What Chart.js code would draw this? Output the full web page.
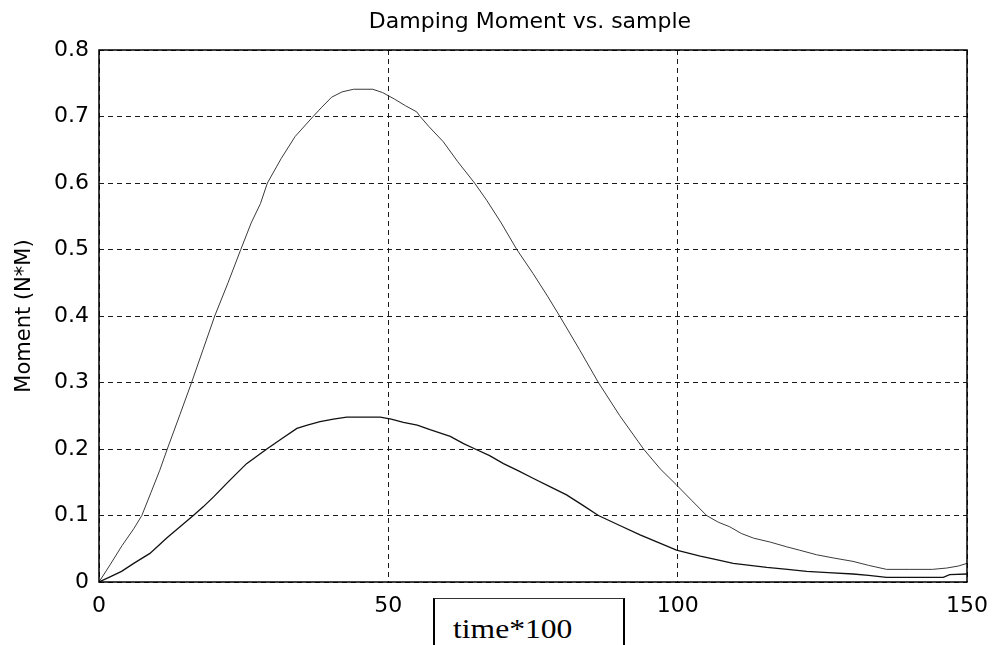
<!DOCTYPE html>
<html>
<head>
<meta charset="utf-8">
<script src="https://cdn.jsdelivr.net/npm/chart.js@4/dist/chart.umd.min.js"></script>
<style>
  html, body { margin: 0; padding: 0; background: #fff; overflow: hidden; }
  #wrap { position: relative; width: 999px; height: 645px; }
  #xlabel {
    position: absolute; left: 433px; top: 598px; width: 188px; height: 60px;
    border: 2px solid #000; border-top: 1.5px solid #333; background: #fff;
  }
  #xlabel span {
    position: absolute; left: 18px; top: 17px; display: inline-block;
    font-family: "Liberation Serif", serif; font-size: 27px; line-height: 27px;
    color: #000; transform: scaleX(1.17); transform-origin: left top; white-space: nowrap;
  }
</style>
</head>
<body>
<div id="wrap">
  <canvas id="c" width="999" height="645"></canvas>
  <div id="xlabel"><span>time*100</span></div>
</div>
<script>
// Larger damping curve (samples, moment in N*M)
const upperSample = [0, 2, 4, 6, 7.4, 9, 10.5, 11.8, 14, 16, 18, 20, 22.3, 24.5, 26.3, 27.9, 29.1, 31.5, 33.9, 37, 38.5, 40.2, 42, 44, 47.3, 49, 51.1, 53, 54.9, 55.5, 57, 59.5, 62, 64.9, 67, 69.5, 72.2, 75, 77.5, 79.6, 83, 86.3, 90, 94.1, 97, 99.8, 102.5, 105, 107, 109, 111, 113.1, 116, 118.8, 121, 124, 127, 130.3, 133, 136.1, 140, 144, 146.5, 148.5, 150];
const upperMoment = [0, 0.027, 0.055, 0.08, 0.1, 0.135, 0.168, 0.2, 0.252, 0.3, 0.35, 0.4, 0.45, 0.5, 0.54, 0.569, 0.6, 0.637, 0.67, 0.7, 0.714, 0.729, 0.737, 0.741, 0.741, 0.736, 0.726, 0.716, 0.707, 0.7, 0.685, 0.662, 0.632, 0.6, 0.574, 0.54, 0.5, 0.464, 0.43, 0.4, 0.35, 0.3, 0.25, 0.2, 0.17, 0.146, 0.122, 0.1, 0.09, 0.083, 0.073, 0.066, 0.06, 0.053, 0.048, 0.041, 0.036, 0.031, 0.025, 0.019, 0.019, 0.019, 0.021, 0.024, 0.028];

// Smaller damping curve
const lowerSample = [0, 2, 3.9, 6, 8.8, 10.3, 11.7, 14, 16.3, 18, 19.8, 22.5, 25.5, 29, 31.5, 34.2, 36, 38.2, 40.5, 42.8, 46, 48.6, 50.5, 52.6, 55, 57.2, 60.7, 63, 65, 67.5, 69.9, 72.5, 75, 78, 80.8, 83.5, 86.3, 90, 93.5, 96.5, 99.8, 103.9, 106.5, 109.6, 112.5, 115.4, 119, 122.3, 126, 130.3, 133, 136.1, 140, 145.9, 147, 150];
const lowerMoment = [0, 0.008, 0.016, 0.028, 0.043, 0.055, 0.066, 0.083, 0.1, 0.113, 0.128, 0.152, 0.178, 0.2, 0.215, 0.231, 0.236, 0.241, 0.245, 0.248, 0.248, 0.248, 0.245, 0.24, 0.236, 0.229, 0.219, 0.208, 0.2, 0.19, 0.178, 0.167, 0.156, 0.143, 0.131, 0.116, 0.1, 0.085, 0.071, 0.06, 0.048, 0.039, 0.034, 0.028, 0.025, 0.022, 0.019, 0.016, 0.014, 0.012, 0.01, 0.007, 0.007, 0.007, 0.011, 0.012];

// Axis ticks
const xTicks = [0, 50, 100, 150];
const yTicks = [0, 0.1, 0.2, 0.3, 0.4, 0.5, 0.6, 0.7, 0.8];

const chartTitle = 'Damping Moment vs. sample';
const yTitle = 'Moment (N*M)';

const toPoints = (xs, ys) => xs.map((x, i) => ({ x: x, y: ys[i] }));

const FONT = '"DejaVu Sans", sans-serif';

// Solid frame round the plot area plus the centred title
const framePlugin = {
  id: 'frame',
  afterDatasetsDraw(chart) {
    const { ctx, chartArea: a } = chart;
    ctx.save();
    ctx.strokeStyle = '#000';
    ctx.lineWidth = 1.5;
    ctx.setLineDash([]);
    ctx.strokeRect(a.left, a.top, a.right - a.left, a.bottom - a.top);
    ctx.restore();
  },
  afterDraw(chart) {
    const { ctx, chartArea: a } = chart;
    ctx.save();
    ctx.font = '22px ' + FONT;
    ctx.fillStyle = '#000';
    ctx.textAlign = 'center';
    ctx.textBaseline = 'alphabetic';
    ctx.fillText(chartTitle, (a.left + a.right) / 2 - 3, 28);
    ctx.restore();
  }
};

new Chart(document.getElementById('c'), {
  type: 'line',
  data: {
    datasets: [
      {
        data: toPoints(upperSample, upperMoment),
        borderColor: '#3a3a3a',
        borderWidth: 1,
        pointRadius: 0,
        tension: 0,
        fill: false
      },
      {
        data: toPoints(lowerSample, lowerMoment),
        borderColor: '#111',
        borderWidth: 1.3,
        pointRadius: 0,
        tension: 0,
        fill: false
      }
    ]
  },
  options: {
    responsive: false,
    animation: false,
    devicePixelRatio: 1,
    layout: { padding: { top: 50, right: 32, left: 0, bottom: 0 } },
    plugins: {
      legend: { display: false },
      title: { display: false },
      tooltip: { enabled: false }
    },
    scales: {
      x: {
        type: 'linear',
        min: 0,
        max: 150,
        afterFit: (s) => { s.height = 63; },
        afterBuildTicks: (s) => { s.ticks = xTicks.map(v => ({ value: v })); },
        ticks: {
          color: '#000',
          font: { family: FONT, size: 22 },
          padding: 11,
          maxRotation: 0,
          callback: (v) => String(v)
        },
        grid: { color: '#1a1a1a', lineWidth: 1, drawTicks: false },
        border: { display: false, dash: [5, 4] }
      },
      y: {
        type: 'linear',
        min: 0,
        max: 0.8,
        afterFit: (s) => { s.width = 99; },
        afterBuildTicks: (s) => { s.ticks = yTicks.map(v => ({ value: v })); },
        ticks: {
          color: '#000',
          font: { family: FONT, size: 22 },
          padding: 10,
          callback: (v) => (v === 0 ? '0' : Number(v).toFixed(1))
        },
        title: {
          display: true,
          text: yTitle,
          color: '#000',
          font: { family: FONT, size: 21 },
          padding: { top: 12, bottom: 0 }
        },
        grid: { color: '#1a1a1a', lineWidth: 1, drawTicks: false },
        border: { display: false, dash: [5, 4] }
      }
    }
  },
  plugins: [framePlugin]
});
</script>
</body>
</html>
